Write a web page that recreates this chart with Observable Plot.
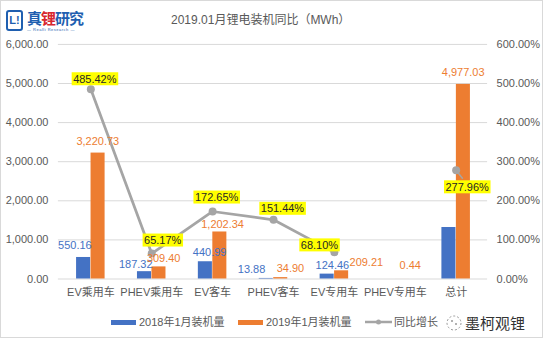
<!DOCTYPE html>
<html><head><meta charset="utf-8">
<script src="https://cdn.jsdelivr.net/npm/d3@7"></script>
<script src="https://cdn.jsdelivr.net/npm/@observablehq/plot@0.6"></script>
<style>
html,body{margin:0;padding:0;background:#fff;}
#wrap{position:relative;width:543px;height:338px;box-sizing:border-box;border:1px solid #d9d9d9;overflow:hidden;font-family:"Liberation Sans",Arial,"Noto Sans CJK SC",sans-serif;}
#chart{position:absolute;left:-1px;top:-1px;}
#title{position:absolute;left:170px;top:9px;font-size:12px;color:#595959;font-family:"Liberation Sans","Noto Sans CJK SC",sans-serif;white-space:nowrap;}
#logo{position:absolute;left:5px;top:8px;height:22px;}
#logo .ic{position:absolute;left:0;top:1px;width:13px;height:17px;border:2px solid #1f5fb0;border-radius:3px;color:#1f5fb0;font:bold 11px "Liberation Sans",sans-serif;line-height:17px;text-align:center;}
#logo .tx{position:absolute;left:21px;top:0;font:bold 15px "Noto Sans CJK SC",sans-serif;color:#1f5fb0;white-space:nowrap;letter-spacing:-1px;line-height:17px;}
#logo .sub{position:absolute;left:21px;top:18px;font:4px "Liberation Sans",sans-serif;color:#1f5fb0;white-space:nowrap;letter-spacing:0.5px;}
#legend{position:absolute;top:312px;left:110px;font-size:11px;color:#595959;white-space:nowrap;font-family:"Liberation Sans","Noto Sans CJK SC",sans-serif;}
#legend span.it{position:absolute;top:0;}
#legend .sw{display:inline-block;width:25px;height:5px;vertical-align:middle;margin-right:3px;position:relative;top:-1px;}
#wm{position:absolute;left:444px;top:311px;white-space:nowrap;}
#wm .t{position:absolute;left:20px;top:0;font:15px "Noto Sans CJK SC",sans-serif;color:#333;}
</style></head>
<body>
<div id="wrap">
  <div id="chart"></div>
  <div id="logo"><div class="ic">L!</div><div class="tx">真<span style="color:#d7282f">锂</span>研究</div><div class="sub">— Realli Research —</div></div>
  <div id="title">2019.01月锂电装机同比（MWh）</div>
  <div id="legend"></div>
  <div id="wm"><svg width="18" height="18" style="position:absolute;left:0;top:2px"><circle cx="9" cy="9" r="7" fill="none" stroke="#999" stroke-width="1" stroke-dasharray="2 2"/><circle cx="7" cy="7" r="1" fill="#999"/><circle cx="11" cy="10" r="1" fill="#999"/></svg><span class="t">墨柯观锂</span></div>
</div>
<script>
// ---- data ----
const categories = ["EV乘用车","PHEV乘用车","EV客车","PHEV客车","EV专用车","PHEV专用车","总计"];
const install2018 = [550.16, 187.32, 440.99, 13.88, 124.46, 0, 1316.81];
const install2019 = [3220.73, 309.40, 1202.34, 34.90, 209.21, 0.44, 4977.03];
const growthPct = [485.42, 65.17, 172.65, 151.44, 68.10, null, 277.96];
const show2018Label = [true, true, true, true, true, false, false];
const leftTicks = [0, 1000, 2000, 3000, 4000, 5000, 6000];
const rightTicksPct = [0, 100, 200, 300, 400, 500, 600];
const seriesNames = ["2018年1月装机量", "2019年1月装机量", "同比增长"];

// ---- styles ----
const BLUE = "#4472C4", ORANGE = "#ED7D31", GRAY = "#A5A5A5";
const pctToLeft = 6000 / 600; // right axis 600% aligns with left 6000
const blueNudge = [[-9,-12],[-9,-7],[4,-9],[-15,-9],[5,-9],[0,0],[0,0]];
const orangeNudge = [[0,-12],[5,-8],[3,-8],[10,-9],[25,-8],[8,-14],[0,-12]];
const growthNudge = [[4,-10],[11,-13],[4,-14],[9,-11],[-15,-7],[0,0],[11,17]];

const idx = categories.map((_, i) => i);
const fmt = d3.format(",.2f");
const BW = 430 / 7, BAR = 14.5, HALF = BW / 2;

const marks = [
  Plot.gridY(leftTicks, {stroke: "#D9D9D9", strokeOpacity: 1, strokeWidth: 1}),
  Plot.axisY({anchor: "left", ticks: leftTicks, tickSize: 0, tickPadding: 10, tickFormat: d => fmt(d), label: null}),
  Plot.axisY({anchor: "right", ticks: rightTicksPct.map(p => p * pctToLeft), tickSize: 0, tickPadding: 9, tickFormat: d => (d / pctToLeft).toFixed(2) + "%", label: null}),
  Plot.axisX({anchor: "bottom", tickSize: 0, tickPadding: 9, label: null, fontSize: 11}),
  Plot.barY(idx, {x: i => categories[i], y: i => install2018[i], fill: BLUE, insetLeft: HALF - BAR, insetRight: HALF}),
  Plot.barY(idx, {x: i => categories[i], y: i => install2019[i], fill: ORANGE, insetLeft: HALF, insetRight: HALF - BAR}),
  Plot.line(idx, {x: i => categories[i], y: i => growthPct[i] == null ? NaN : growthPct[i] * pctToLeft, stroke: GRAY, strokeWidth: 2.75}),
  Plot.dot(idx.filter(i => growthPct[i] != null), {x: i => categories[i], y: i => growthPct[i] * pctToLeft, r: 4, fill: GRAY, stroke: null})
];
idx.forEach(i => {
  if (show2018Label[i]) marks.push(Plot.text([i], {x: i => categories[i], y: i => install2018[i], text: i => fmt(install2018[i]), fill: BLUE, fontSize: 11, dx: -7 + blueNudge[i][0], dy: blueNudge[i][1]}));
  marks.push(Plot.text([i], {x: i => categories[i], y: i => install2019[i], text: i => fmt(install2019[i]), fill: ORANGE, fontSize: 11, dx: 7 + orangeNudge[i][0], dy: orangeNudge[i][1]}));
  if (growthPct[i] != null) marks.push(Plot.text([i], {x: i => categories[i], y: i => growthPct[i] * pctToLeft, text: i => growthPct[i].toFixed(2) + "%", fill: "#262626", fontSize: 11, dx: growthNudge[i][0], dy: growthNudge[i][1]}));
});

const plot = Plot.plot({
  width: 543, height: 305,
  marginTop: 44, marginBottom: 26, marginLeft: 58, marginRight: 55,
  x: {type: "band", domain: categories, padding: 0, axis: null},
  y: {domain: [0, 6000], axis: null},
  style: {fontFamily: '"Liberation Sans", Arial, "Noto Sans CJK SC", sans-serif', fontSize: "11px", color: "#595959", background: "transparent"},
  marks
});
document.getElementById("chart").appendChild(plot);

// yellow label boxes behind growth labels (text ending in %, not axis ticks)
const svgNS = "http://www.w3.org/2000/svg";
const growthTexts = new Set(growthPct.filter(v => v != null).map(v => v.toFixed(2) + "%"));
Array.from(plot.querySelectorAll("text")).forEach(t => {
  if (!growthTexts.has(t.textContent)) return;
  const g = t.closest("g");
  if (g && /axis/.test(g.getAttribute("aria-label") || "")) return;
  const b = t.getBBox();
  const r = document.createElementNS(svgNS, "rect");
  r.setAttribute("x", b.x - 1.5); r.setAttribute("y", b.y - 0.5);
  r.setAttribute("width", b.width + 3); r.setAttribute("height", b.height + 1);
  r.setAttribute("fill", "#FFFF00");
  r.setAttribute("stroke", "none");
  if (t.getAttribute("transform")) r.setAttribute("transform", t.getAttribute("transform"));
  t.parentNode.insertBefore(r, t);
});
// leader line for total label (drawn over the bar)
{
  const i = categories.length - 1;
  const xs = plot.scale("x"), ys = plot.scale("y");
  const px = xs.apply(categories[i]) + xs.bandwidth / 2, py = ys.apply(growthPct[i] * pctToLeft);
  const l = document.createElementNS(svgNS, "line");
  l.setAttribute("x1", px); l.setAttribute("y1", py);
  l.setAttribute("x2", px + growthNudge[i][0] * 0.65); l.setAttribute("y2", py + growthNudge[i][1] - 8);
  l.setAttribute("stroke", GRAY); l.setAttribute("stroke-width", 1.5);
  plot.appendChild(l);
}

// legend
const lg = document.getElementById("legend");
const items = [
  {x: 0, html: `<span class="sw" style="background:${BLUE}"></span>${seriesNames[0]}`},
  {x: 127, html: `<span class="sw" style="background:${ORANGE}"></span>${seriesNames[1]}`},
  {x: 254, html: `<svg width="27" height="8" style="vertical-align:middle;margin-right:2px;position:relative;top:-1px"><line x1="0" y1="4" x2="27" y2="4" stroke="${GRAY}" stroke-width="2.5"/><circle cx="13.5" cy="4" r="2.5" fill="${GRAY}"/></svg>${seriesNames[2]}`}
];
items.forEach(it => { const s = document.createElement("span"); s.className = "it"; s.style.left = it.x + "px"; s.innerHTML = it.html; lg.appendChild(s); });
</script>
</body></html>
